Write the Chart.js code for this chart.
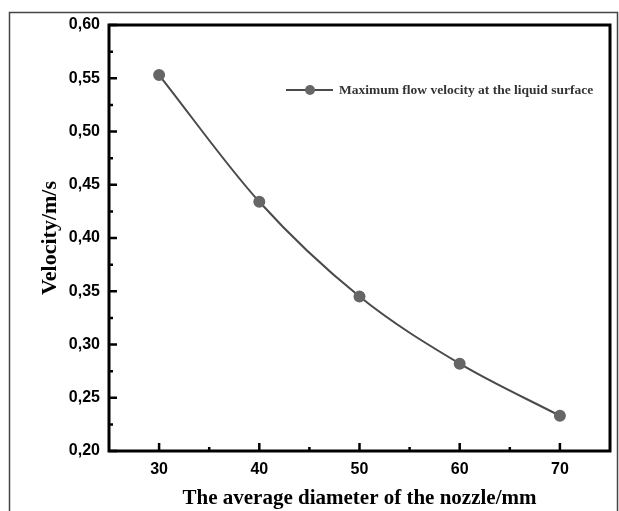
<!DOCTYPE html>
<html>
<head>
<meta charset="utf-8">
<script src="https://cdn.jsdelivr.net/npm/chart.js@4/dist/chart.umd.min.js"></script>
<style>
  body { margin: 0; background: #fff; }
  canvas { display: block; }
</style>
</head>
<body>
<canvas id="lineChart" width="619" height="511"></canvas>
<script>
'use strict';

// data
const diameters = [30, 40, 50, 60, 70];
const velocities = [0.553, 0.434, 0.345, 0.282, 0.233];
const xTicks = [30, 40, 50, 60, 70];
const yTicks = [0.20, 0.25, 0.30, 0.35, 0.40, 0.45, 0.50, 0.55, 0.60];
const seriesLabel = 'Maximum flow velocity at the liquid surface';
const xTitle = 'The average diameter of the nozzle/mm';
const yTitle = 'Velocity/m/s';

const CHART = document.getElementById('lineChart');

// white page + thin outer frame
const framePlugin = {
    id: 'frame',
    beforeDraw(chart) {
        const ctx = chart.ctx;
        ctx.save();
        ctx.fillStyle = '#fff';
        ctx.fillRect(0, 0, chart.width, chart.height);
        ctx.strokeStyle = '#444';
        ctx.lineWidth = 1.5;
        ctx.strokeRect(9.5, 12.5, 608, 520);
        ctx.restore();
    }
};

// box around plot + inward ticks (major + minor)
const boxPlugin = {
    id: 'box',
    afterDraw(chart) {
        const {ctx, chartArea: a, scales: {x, y}} = chart;
        ctx.save();
        ctx.strokeStyle = '#000';
        ctx.lineWidth = 3;
        ctx.strokeRect(a.left, a.top, a.right - a.left, a.bottom - a.top);

        ctx.lineWidth = 2.5;
        ctx.beginPath();
        xTicks.forEach((v, i) => {
            const px = x.getPixelForValue(v);
            ctx.moveTo(px, a.bottom);
            ctx.lineTo(px, a.bottom - 8);
            if (i < xTicks.length - 1) {
                const mx = x.getPixelForValue((v + xTicks[i + 1]) / 2);
                ctx.moveTo(mx, a.bottom);
                ctx.lineTo(mx, a.bottom - 4);
            }
        });
        yTicks.forEach((v, i) => {
            const py = y.getPixelForValue(v);
            ctx.moveTo(a.left, py);
            ctx.lineTo(a.left + 8, py);
            if (i < yTicks.length - 1) {
                const my = y.getPixelForValue((v + yTicks[i + 1]) / 2);
                ctx.moveTo(a.left, my);
                ctx.lineTo(a.left + 4, my);
            }
        });
        ctx.stroke();
        ctx.restore();
    }
};

// legend drawn as line + dot + label
const legendPlugin = {
    id: 'lineLegend',
    afterDraw(chart) {
        const ctx = chart.ctx;
        const ds = chart.data.datasets[0];
        const lx = 286, ly = 90;
        ctx.save();
        ctx.strokeStyle = ds.borderColor;
        ctx.lineWidth = 2;
        ctx.beginPath();
        ctx.moveTo(lx, ly);
        ctx.lineTo(lx + 47, ly);
        ctx.stroke();
        ctx.fillStyle = ds.pointBackgroundColor;
        ctx.beginPath();
        ctx.arc(lx + 24, ly, 5, 0, Math.PI * 2);
        ctx.fill();
        ctx.fillStyle = '#333';
        ctx.font = 'bold 13.5px "Liberation Serif", "Times New Roman", serif';
        ctx.textBaseline = 'middle';
        ctx.fillText(ds.label, lx + 53, ly + 1);
        ctx.restore();
    }
};

let lineChart = new Chart(CHART, {
    type: 'line',
    data: {
        datasets: [
            {
                label: seriesLabel,
                data: diameters.map((d, i) => ({x: d, y: velocities[i]})),
                borderColor: '#4a4a4a',
                borderWidth: 2,
                pointBackgroundColor: '#666',
                pointBorderColor: '#666',
                pointRadius: 5,
                cubicInterpolationMode: 'monotone',
                fill: false
            }
        ]
    },
    options: {
        responsive: false,
        animation: false,
        layout: {
            padding: {left: 0, right: 9, top: 25, bottom: 0}
        },
        plugins: {
            legend: {display: false},
            tooltip: {enabled: false}
        },
        scales: {
            x: {
                type: 'linear',
                min: 25,
                max: 75,
                grid: {display: false, drawTicks: false},
                border: {display: false},
                afterBuildTicks: scale => {
                    scale.ticks = xTicks.map(v => ({value: v}));
                },
                afterFit: scale => { scale.height = 60; },
                ticks: {
                    padding: 9,
                    color: '#000',
                    font: {family: '"Liberation Sans", Arial, sans-serif', size: 16, weight: 'bold'}
                },
                title: {
                    display: true,
                    text: xTitle,
                    color: '#000',
                    padding: {top: 0, bottom: 0},
                    font: {family: '"Liberation Serif", "Times New Roman", serif', size: 21, weight: 'bold'}
                }
            },
            y: {
                min: 0.2,
                max: 0.6,
                grid: {display: false, drawTicks: false},
                border: {display: false},
                afterBuildTicks: scale => {
                    scale.ticks = yTicks.map(v => ({value: v}));
                },
                afterFit: scale => { scale.width = 109; },
                ticks: {
                    padding: 9,
                    color: '#000',
                    font: {family: '"Liberation Sans", Arial, sans-serif', size: 16, weight: 'bold'},
                    callback: v => v.toFixed(2).replace('.', ',')
                },
                title: {
                    display: true,
                    text: yTitle,
                    color: '#000',
                    padding: {top: 37, bottom: 0},
                    font: {family: '"Liberation Serif", "Times New Roman", serif', size: 22, weight: 'bold'}
                }
            }
        }
    },
    plugins: [framePlugin, boxPlugin, legendPlugin]
});
</script>
</body>
</html>
